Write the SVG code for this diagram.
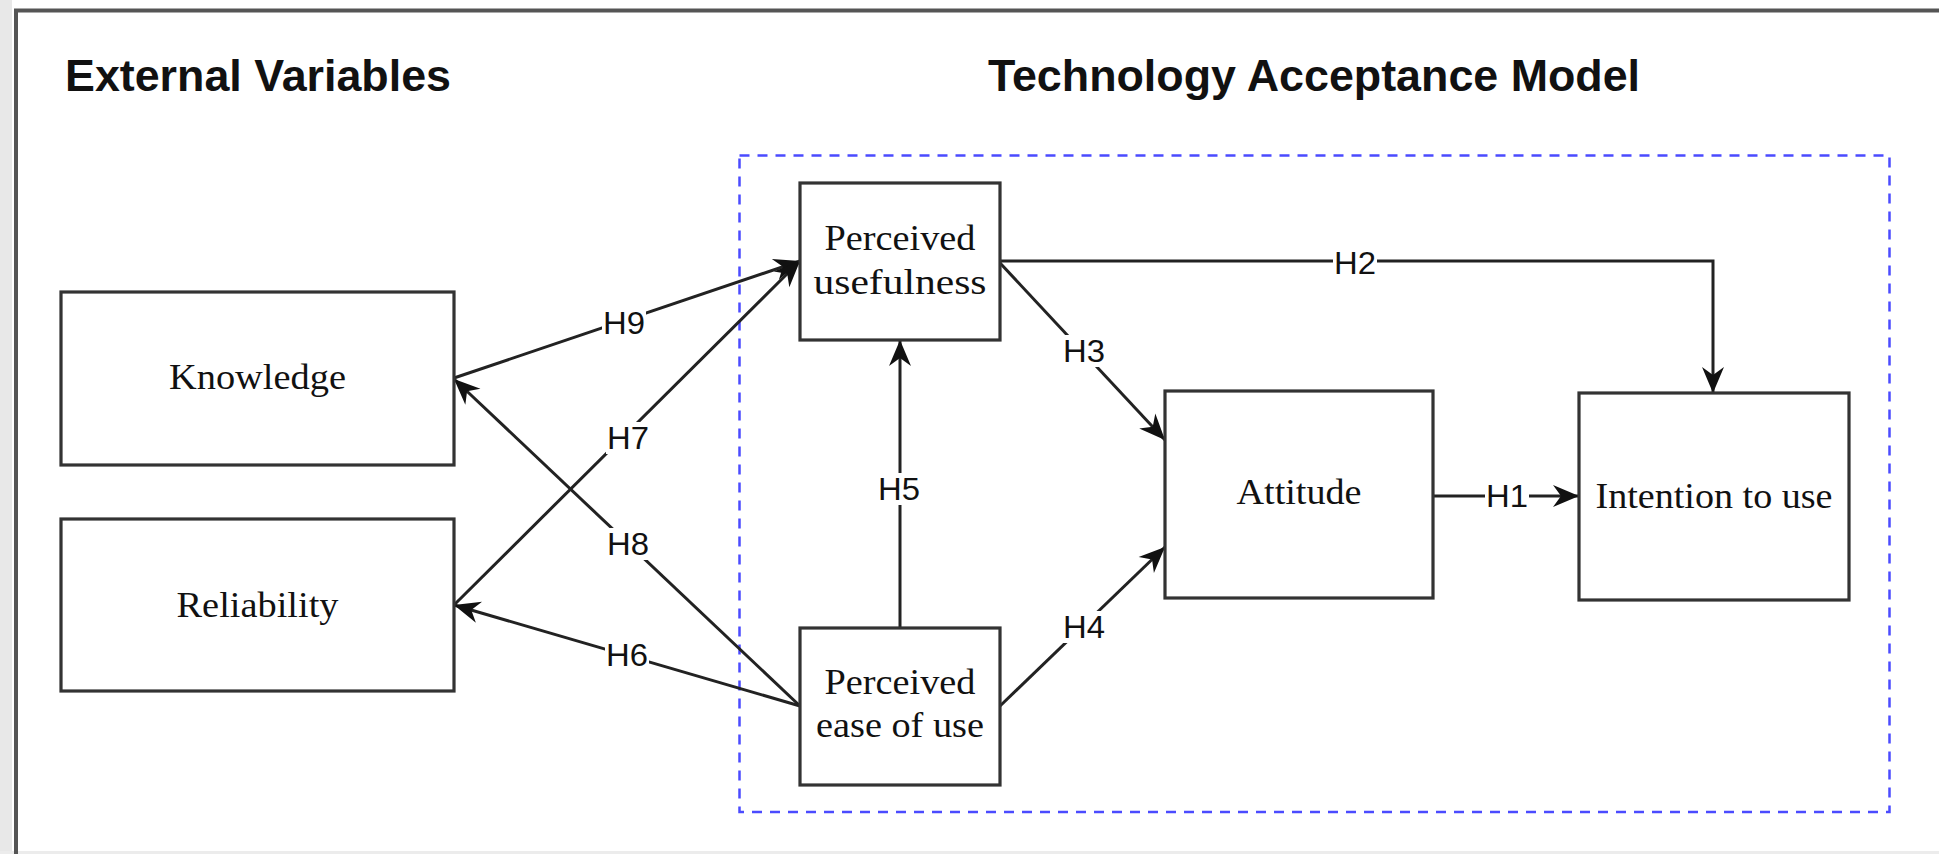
<svg xmlns="http://www.w3.org/2000/svg" width="1939" height="854" viewBox="0 0 1939 854">
<defs>
<style>
.box{fill:#fff;stroke:#333;stroke-width:3.2}
.nt{font-family:"Liberation Serif","Times New Roman",serif;font-size:36px;fill:#111;text-anchor:middle}
.hd{font-family:"Liberation Sans",Arial,sans-serif;font-size:44.8px;font-weight:bold;fill:#111}
.lb{font-family:"Liberation Sans",Arial,sans-serif;font-size:31px;fill:#111;text-anchor:middle}
.ln{fill:none;stroke:#222;stroke-width:3;marker-end:url(#arr)}
.lbg{fill:#fff}
</style>
<marker id="arr" viewBox="-28 -13 30 26" refX="0" refY="0" markerWidth="30" markerHeight="26" orient="auto" markerUnits="userSpaceOnUse">
<path d="M0,0 L-26,-11 L-18,0 L-26,11 Z" fill="#111"/>
</marker>
</defs>
<rect x="0" y="0" width="1939" height="854" fill="#fff"/>
<rect x="0" y="0" width="12" height="854" fill="#e8e8e8"/>
<rect x="0" y="851" width="1939" height="3" fill="#ececec"/>
<path d="M16,854 L16,10.5 L1939,10.5" fill="none" stroke="#555" stroke-width="4"/>

<g id="headings">
<text class="hd" x="65" y="91">External Variables</text>
<text class="hd" x="1314" y="91" text-anchor="middle">Technology Acceptance Model</text>
</g>

<g id="tam-boundary">
<rect x="739.5" y="155.5" width="1150" height="656.5" fill="none" stroke="#4b4bff" stroke-width="2.5" stroke-dasharray="10 8"/>
</g>

<g id="connectors">
<path class="ln" d="M454,378 L800,261"/>
<path class="ln" d="M454,605 L800,261"/>
<path class="ln" d="M800,706 L454,379"/>
<path class="ln" d="M800,706 L454,605"/>
<path class="ln" d="M900,627 L900,340"/>
<path class="ln" d="M1000,263 L1165,440"/>
<path class="ln" d="M1000,706 L1165,547"/>
<path class="ln" d="M1433,496 L1579,496"/>
<path class="ln" d="M1000,261 L1713,261 L1713,393"/>
<g id="labels">
<rect class="lbg" x="602" y="307" width="44" height="32"/><text class="lb" x="624" y="334" textLength="42" lengthAdjust="spacingAndGlyphs">H9</text>
<rect class="lbg" x="606" y="422" width="44" height="32"/><text class="lb" x="628" y="449" textLength="42" lengthAdjust="spacingAndGlyphs">H7</text>
<rect class="lbg" x="606" y="528" width="44" height="32"/><text class="lb" x="628" y="555" textLength="42" lengthAdjust="spacingAndGlyphs">H8</text>
<rect class="lbg" x="605" y="639" width="44" height="32"/><text class="lb" x="627" y="666" textLength="42" lengthAdjust="spacingAndGlyphs">H6</text>
<rect class="lbg" x="877" y="473" width="44" height="32"/><text class="lb" x="899" y="500" textLength="42" lengthAdjust="spacingAndGlyphs">H5</text>
<rect class="lbg" x="1062" y="335" width="44" height="32"/><text class="lb" x="1084" y="362" textLength="42" lengthAdjust="spacingAndGlyphs">H3</text>
<rect class="lbg" x="1062" y="611" width="44" height="32"/><text class="lb" x="1084" y="638" textLength="42" lengthAdjust="spacingAndGlyphs">H4</text>
<rect class="lbg" x="1333" y="247" width="44" height="32"/><text class="lb" x="1355" y="274" textLength="42" lengthAdjust="spacingAndGlyphs">H2</text>
<rect class="lbg" x="1485" y="480" width="44" height="32"/><text class="lb" x="1507" y="507" textLength="42" lengthAdjust="spacingAndGlyphs">H1</text>
</g>
</g>

<g id="knowledge">
<rect class="box" x="61" y="292" width="393" height="173"/>
<text class="nt" x="257.5" y="389" textLength="177" lengthAdjust="spacingAndGlyphs">Knowledge</text>
</g>
<g id="reliability">
<rect class="box" x="61" y="519" width="393" height="172"/>
<text class="nt" x="257.5" y="617" textLength="162" lengthAdjust="spacingAndGlyphs">Reliability</text>
</g>
<g id="perceived-usefulness">
<rect class="box" x="800" y="183" width="200" height="157"/>
<text class="nt" x="900" y="250" textLength="151" lengthAdjust="spacingAndGlyphs">Perceived</text>
<text class="nt" x="900" y="294" textLength="173" lengthAdjust="spacingAndGlyphs">usefulness</text>
</g>
<g id="perceived-ease-of-use">
<rect class="box" x="800" y="628" width="200" height="157"/>
<text class="nt" x="900" y="694" textLength="151" lengthAdjust="spacingAndGlyphs">Perceived</text>
<text class="nt" x="900" y="737" textLength="168" lengthAdjust="spacingAndGlyphs">ease of use</text>
</g>
<g id="attitude">
<rect class="box" x="1165" y="391" width="268" height="207"/>
<text class="nt" x="1299" y="504" textLength="125" lengthAdjust="spacingAndGlyphs">Attitude</text>
</g>
<g id="intention-to-use">
<rect class="box" x="1579" y="393" width="270" height="207"/>
<text class="nt" x="1714" y="508" textLength="237" lengthAdjust="spacingAndGlyphs">Intention to use</text>
</g>
</svg>
